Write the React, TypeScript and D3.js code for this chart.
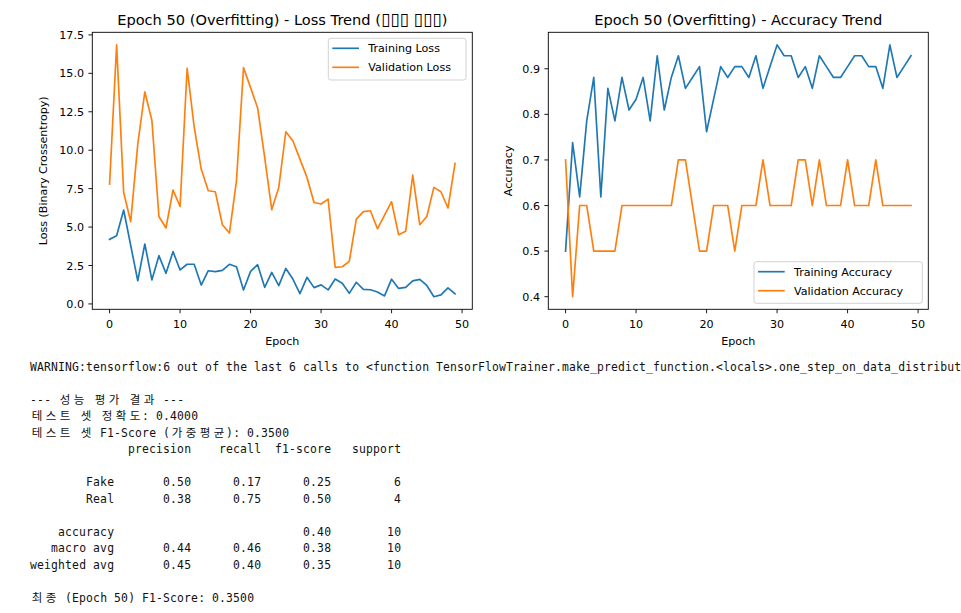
import React from "react";
import * as d3 from "d3";

const epochs: number[] = Array.from({ length: 50 }, (_, i) => i);

const trainLoss: number[] = [
  4.20, 4.43, 6.11, 3.80, 1.51, 3.90, 1.56, 3.14, 1.99, 3.40,
  2.21, 2.58, 2.58, 1.23, 2.16, 2.10, 2.18, 2.58, 2.42, 0.91,
  2.12, 2.55, 1.08, 2.05, 1.19, 2.31, 1.62, 0.67, 1.73, 1.06,
  1.24, 0.91, 1.62, 1.34, 0.69, 1.41, 0.95, 0.92, 0.78, 0.52,
  1.61, 1.01, 1.08, 1.50, 1.60, 1.20, 0.47, 0.59, 1.04, 0.65,
];

const valLoss: number[] = [
  7.80, 16.85, 7.25, 5.35, 10.40, 13.79, 11.95, 5.69, 4.94, 7.41,
  6.34, 15.33, 11.52, 8.77, 7.36, 7.30, 5.15, 4.61, 8.01, 15.37,
  14.07, 12.75, 9.53, 6.13, 7.58, 11.20, 10.61, 9.42, 8.23, 6.60,
  6.50, 6.82, 2.38, 2.42, 2.77, 5.52, 6.00, 6.06, 4.89, 5.78,
  6.65, 4.50, 4.72, 8.38, 5.15, 5.69, 7.58, 7.30, 6.24, 9.14,
];

const trainAcc: number[] = [
  0.5000, 0.7381, 0.6190, 0.7857, 0.8810, 0.6190, 0.8571, 0.7857, 0.8810, 0.8095,
  0.8333, 0.8810, 0.7857, 0.9286, 0.8095, 0.8810, 0.9286, 0.8571, 0.8810, 0.9048,
  0.7619, 0.8333, 0.9048, 0.8810, 0.9048, 0.9048, 0.8810, 0.9286, 0.8571, 0.9048,
  0.9524, 0.9286, 0.9286, 0.8810, 0.9048, 0.8571, 0.9286, 0.9048, 0.8810, 0.8810,
  0.9048, 0.9286, 0.9286, 0.9048, 0.9048, 0.8571, 0.9524, 0.8810, 0.9048, 0.9286,
];

const valAcc: number[] = [
  0.7, 0.4, 0.6, 0.6, 0.5, 0.5, 0.5, 0.5, 0.6, 0.6,
  0.6, 0.6, 0.6, 0.6, 0.6, 0.6, 0.7, 0.7, 0.6, 0.5,
  0.5, 0.6, 0.6, 0.6, 0.5, 0.6, 0.6, 0.6, 0.7, 0.6,
  0.6, 0.6, 0.6, 0.7, 0.7, 0.6, 0.7, 0.6, 0.6, 0.6,
  0.7, 0.6, 0.6, 0.6, 0.7, 0.6, 0.6, 0.6, 0.6, 0.6,
];

const xTicks: number[] = [0, 10, 20, 30, 40, 50];
const lossTicks: number[] = [0, 2.5, 5, 7.5, 10, 12.5, 15, 17.5];
const accTicks: number[] = [0.4, 0.5, 0.6, 0.7, 0.8, 0.9];

const lossTitleMain = "Epoch 50 (Overfitting) - Loss Trend (";
const lossTitleTofu = ["\u25AF\u25AF\u25AF", "\u25AF\u25AF\u25AF"];
const accTitle = "Epoch 50 (Overfitting) - Accuracy Trend";
const lossLegend: string[] = ["Training Loss", "Validation Loss"];
const accLegend: string[] = ["Training Accuracy", "Validation Accuracy"];

const outputLines: string[] = [
  "WARNING:tensorflow:6 out of the last 6 calls to <function TensorFlowTrainer.make_predict_function.<locals>.one_step_on_data_distribut",
  "",
  "--- 성능 평가 결과 ---",
  "테스트 셋 정확도: 0.4000",
  "테스트 셋 F1-Score (가중평균): 0.3500",
  "              precision    recall  f1-score   support",
  "",
  "        Fake       0.50      0.17      0.25         6",
  "        Real       0.38      0.75      0.50         4",
  "",
  "    accuracy                           0.40        10",
  "   macro avg       0.44      0.46      0.38        10",
  "weighted avg       0.45      0.40      0.35        10",
  "",
  "최종 (Epoch 50) F1-Score: 0.3500",
];

const BLUE = "#1f77b4";
const ORANGE = "#ff7f0e";
const FONT = "'DejaVu Sans', sans-serif";
const TICK_FS = 11.1;
const TITLE_FS = 14.6;

type PanelProps = {
  left: number;
  right: number;
  title: React.ReactNode;
  yLabel: string;
  yLabelX: number;
  series: number[][];
  yTicks: number[];
  yFmt: (v: number) => string;
  legend: string[];
  legendPos: { x: number; y: number; w: number; h: number };
};

const TOP = 32.3;
const BOTTOM = 309.3;

function Panel(p: PanelProps) {
  const x = d3.scaleLinear().domain([-2.45, 51.45]).range([p.left, p.right]);
  const all = p.series.flat();
  const mn = d3.min(all) as number;
  const mx = d3.max(all) as number;
  const pad = (mx - mn) * 0.05;
  const y = d3.scaleLinear().domain([mn - pad, mx + pad]).range([BOTTOM, TOP]);
  const line = d3
    .line<number>()
    .x((_, i) => x(epochs[i]))
    .y((d) => y(d));
  const colors = [BLUE, ORANGE];
  const tl = 3.9;
  const cx = (p.left + p.right) / 2;
  const lg = p.legendPos;
  return (
    <g>
      <text x={cx} y={25} textAnchor="middle" fontFamily={FONT} fontSize={TITLE_FS} fill="#000">
        {p.title}
      </text>
      {p.series.map((s, k) => (
        <path key={k} d={line(s) || ""} fill="none" stroke={colors[k]} strokeWidth={1.67} strokeLinejoin="round" strokeLinecap="square" />
      ))}
      <rect x={p.left} y={TOP} width={p.right - p.left} height={BOTTOM - TOP} fill="none" stroke="#000" strokeWidth={0.9} />
      {xTicks.map((t) => (
        <g key={"x" + t}>
          <line x1={x(t)} x2={x(t)} y1={BOTTOM} y2={BOTTOM + tl} stroke="#000" strokeWidth={0.9} />
          <text x={x(t)} y={328} textAnchor="middle" fontFamily={FONT} fontSize={TICK_FS} fill="#000">
            {t}
          </text>
        </g>
      ))}
      {p.yTicks.map((t) => (
        <g key={"y" + t}>
          <line x1={p.left - tl} x2={p.left} y1={y(t)} y2={y(t)} stroke="#000" strokeWidth={0.9} />
          <text x={p.left - 2 * tl - 0.5} y={y(t) + 4} textAnchor="end" fontFamily={FONT} fontSize={TICK_FS} fill="#000">
            {p.yFmt(t)}
          </text>
        </g>
      ))}
      <text x={cx} y={345} textAnchor="middle" fontFamily={FONT} fontSize={TICK_FS} fill="#000">
        Epoch
      </text>
      <text
        transform={`translate(${p.yLabelX},${(TOP + BOTTOM) / 2}) rotate(-90)`}
        textAnchor="middle"
        fontFamily={FONT}
        fontSize={TICK_FS}
        fill="#000"
      >
        {p.yLabel}
      </text>
      <rect x={lg.x} y={lg.y} width={lg.w} height={lg.h} rx={2.5} fill="#fff" fillOpacity={0.8} stroke="#cccccc" strokeWidth={0.9} />
      {p.legend.map((name, k) => (
        <g key={name}>
          <line x1={lg.x + 4} x2={lg.x + 30.7} y1={lg.y + 10 + k * 19} y2={lg.y + 10 + k * 19} stroke={colors[k]} strokeWidth={1.67} />
          <text x={lg.x + 40} y={lg.y + 14 + k * 19} fontFamily={FONT} fontSize={TICK_FS} fill="#000">
            {name}
          </text>
        </g>
      ))}
    </g>
  );
}

const isWide = (c: string) => /[\u1100-\u11ff\u3130-\u318f\uac00-\ud7af]/.test(c);

function OutputLine({ text, baseline }: { text: string; baseline: number }) {
  const items: React.ReactNode[] = [];
  let col = 0;
  let buf = "";
  let bufStart = 0;
  const X0 = 30;
  const CW = 7;
  const flush = () => {
    if (buf.length) {
      items.push(
        <text key={"a" + bufStart} x={X0 + bufStart * CW} y={baseline} fontFamily="'DejaVu Sans Mono', monospace" fontSize={11.4} fill="#111" textLength={buf.length * CW} lengthAdjust="spacing">
          {buf}
        </text>
      );
      buf = "";
    }
  };
  for (const ch of Array.from(text)) {
    if (ch === " ") {
      flush();
      col += 1;
      continue;
    }
    if (isWide(ch)) {
      flush();
      items.push(
        <text key={"k" + col} x={X0 + col * CW + CW} y={baseline} textAnchor="middle" fontFamily="'Noto Sans CJK KR', sans-serif" fontSize={11.5} fill="#111">
          {ch}
        </text>
      );
      col += 2;
      continue;
    }
    if (!buf.length) bufStart = col;
    buf += ch;
    col += 1;
  }
  flush();
  return <g>{items}</g>;
}

export default function App() {
  const lossTitle = (
    <>
      {lossTitleMain}
      <tspan fontSize={17}>{lossTitleTofu[0]}</tspan>
      {" "}
      <tspan fontSize={17}>{lossTitleTofu[1]}</tspan>
      {")"}
    </>
  );
  return (
    <svg width={961} height={613} style={{ position: "absolute", left: 0, top: 0, background: "#fff" }}>
      <rect x={0} y={0} width={961} height={613} fill="#fff" />
      <Panel
        left={92.3}
        right={472.3}
        title={lossTitle}
        yLabel="Loss (Binary Crossentropy)"
        yLabelX={47.3}
        series={[trainLoss, valLoss]}
        yTicks={lossTicks}
        yFmt={(v) => v.toFixed(1)}
        legend={lossLegend}
        legendPos={{ x: 328.3, y: 38.3, w: 137.7, h: 41.7 }}
      />
      <Panel
        left={548.3}
        right={928.3}
        title={accTitle}
        yLabel="Accuracy"
        yLabelX={511.5}
        series={[trainAcc, valAcc]}
        yTicks={accTicks}
        yFmt={(v) => v.toFixed(1)}
        legend={accLegend}
        legendPos={{ x: 754, y: 261.7, w: 168.3, h: 41.6 }}
      />
      {outputLines.map((l, i) => (
        <OutputLine key={i} text={l} baseline={370.5 + i * 16.5} />
      ))}
    </svg>
  );
}
